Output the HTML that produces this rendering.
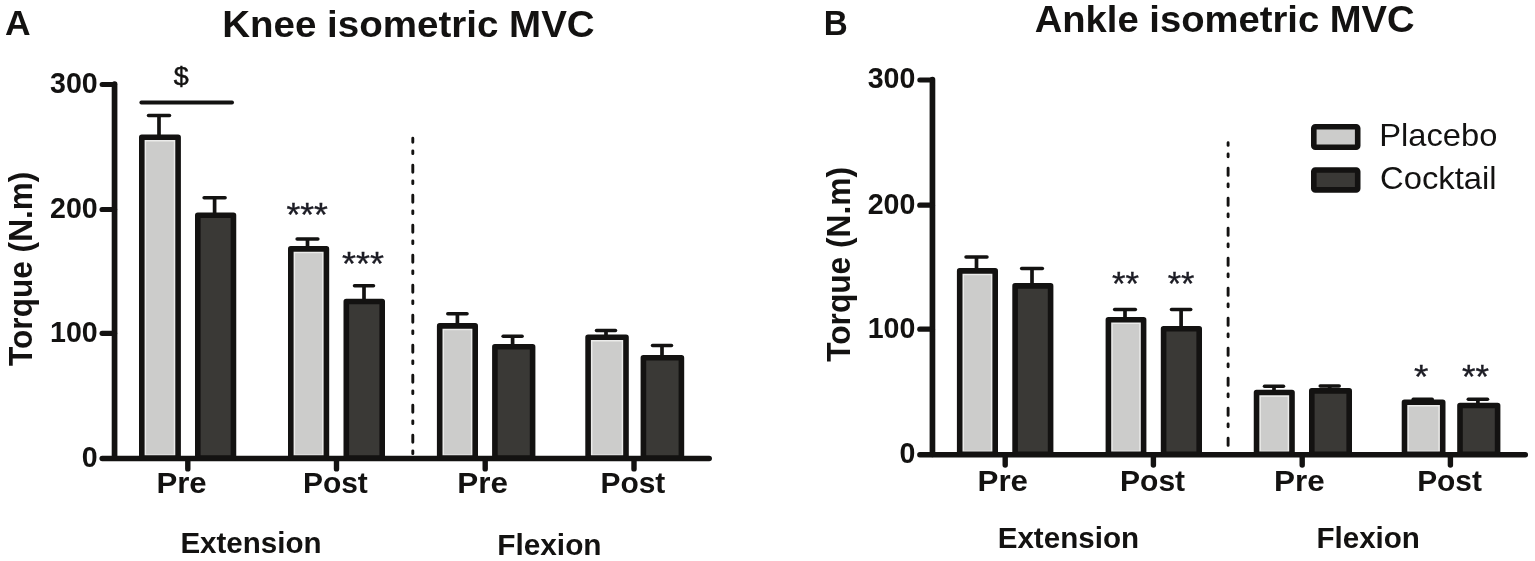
<!DOCTYPE html>
<html lang="en">
<head>
<meta charset="utf-8">
<title>Knee and ankle isometric MVC</title>
<style>
html,body{margin:0;padding:0;background:#fff;}
body{width:1535px;height:561px;overflow:hidden;}
svg{display:block;filter:blur(0.7px);}
svg text{font-family:"Liberation Sans",sans-serif;fill:#131211;}
</style>
</head>
<body>
<svg role="img" aria-label="Knee and ankle isometric MVC torque, placebo versus cocktail" width="1535" height="561" viewBox="0 0 1535 561">
<rect width="1535" height="561" fill="#fff"/>
<path d="M114.55 84.20 V458.10" stroke="#131211" stroke-width="5.7" fill="none" stroke-linecap="round"/>
<path d="M102.10 84.4H114.55" stroke="#131211" stroke-width="5.0" fill="none" stroke-linecap="round"/>
<path d="M102.20 458.5H709.20" stroke="#131211" stroke-width="5.5" fill="none" stroke-linecap="round"/>
<path d="M102.10 209.5H114.55" stroke="#131211" stroke-width="5.2" stroke-linecap="round"/>
<path d="M102.10 333.3H114.55" stroke="#131211" stroke-width="5.2" stroke-linecap="round"/>
<path d="M187.8 460.00V468.90" stroke="#131211" stroke-width="5.4" stroke-linecap="round"/>
<path d="M336.5 460.00V468.90" stroke="#131211" stroke-width="5.4" stroke-linecap="round"/>
<path d="M485.2 460.00V468.90" stroke="#131211" stroke-width="5.4" stroke-linecap="round"/>
<path d="M634.0 460.00V468.90" stroke="#131211" stroke-width="5.4" stroke-linecap="round"/>
<path d="M148.50 115.60H169.50" stroke="#131211" stroke-width="3.5" stroke-linecap="round" fill="none"/>
<path d="M159.00 115.60V136.40" stroke="#131211" stroke-width="3.7" fill="none"/>
<rect x="144.60" y="140.00" width="30.70" height="316.00" fill="#cccccb" stroke="#ebebea" stroke-width="3.0"/>
<rect x="141.80" y="137.20" width="36.30" height="320.90" fill="none" stroke="#131211" stroke-width="5.6" stroke-linejoin="round"/>
<path d="M204.10 197.80H225.10" stroke="#131211" stroke-width="3.5" stroke-linecap="round" fill="none"/>
<path d="M214.60 197.80V214.50" stroke="#131211" stroke-width="3.7" fill="none"/>
<rect x="197.80" y="215.30" width="35.65" height="242.80" fill="#3a3936" stroke="#131211" stroke-width="5.6" stroke-linejoin="round"/>
<path d="M297.12 239.00H317.88" stroke="#131211" stroke-width="3.5" stroke-linecap="round" fill="none"/>
<path d="M307.50 239.00V248.10" stroke="#131211" stroke-width="3.7" fill="none"/>
<rect x="293.60" y="251.70" width="30.00" height="204.30" fill="#cccccb" stroke="#ebebea" stroke-width="3.0"/>
<rect x="290.80" y="248.90" width="35.60" height="209.20" fill="none" stroke="#131211" stroke-width="5.6" stroke-linejoin="round"/>
<path d="M354.50 285.75H373.50" stroke="#131211" stroke-width="3.5" stroke-linecap="round" fill="none"/>
<path d="M364.00 285.75V300.75" stroke="#131211" stroke-width="3.7" fill="none"/>
<rect x="346.30" y="301.55" width="35.90" height="156.55" fill="#3a3936" stroke="#131211" stroke-width="5.6" stroke-linejoin="round"/>
<path d="M447.77 313.75H467.02" stroke="#131211" stroke-width="3.5" stroke-linecap="round" fill="none"/>
<path d="M457.40 313.75V325.10" stroke="#131211" stroke-width="3.7" fill="none"/>
<rect x="442.50" y="328.70" width="29.90" height="127.30" fill="#cccccb" stroke="#ebebea" stroke-width="3.0"/>
<rect x="439.70" y="325.90" width="35.50" height="132.20" fill="none" stroke="#131211" stroke-width="5.6" stroke-linejoin="round"/>
<path d="M503.10 336.25H522.10" stroke="#131211" stroke-width="3.5" stroke-linecap="round" fill="none"/>
<path d="M512.60 336.25V346.00" stroke="#131211" stroke-width="3.7" fill="none"/>
<rect x="494.90" y="346.80" width="37.70" height="111.30" fill="#3a3936" stroke="#131211" stroke-width="5.6" stroke-linejoin="round"/>
<path d="M596.50 330.40H615.50" stroke="#131211" stroke-width="3.5" stroke-linecap="round" fill="none"/>
<path d="M606.00 330.40V336.40" stroke="#131211" stroke-width="3.7" fill="none"/>
<rect x="590.90" y="340.00" width="32.30" height="116.00" fill="#cccccb" stroke="#ebebea" stroke-width="3.0"/>
<rect x="588.10" y="337.20" width="37.90" height="120.90" fill="none" stroke="#131211" stroke-width="5.6" stroke-linejoin="round"/>
<path d="M652.50 345.60H671.50" stroke="#131211" stroke-width="3.5" stroke-linecap="round" fill="none"/>
<path d="M662.00 345.60V357.00" stroke="#131211" stroke-width="3.7" fill="none"/>
<rect x="643.40" y="357.80" width="38.00" height="100.30" fill="#3a3936" stroke="#131211" stroke-width="5.6" stroke-linejoin="round"/>
<text transform="translate(49.99 92.85) scale(0.9400 1)" font-size="30.4" font-weight="bold">300</text>
<text transform="translate(49.99 217.95) scale(0.9400 1)" font-size="30.4" font-weight="bold">200</text>
<text transform="translate(49.99 341.75) scale(0.9400 1)" font-size="30.4" font-weight="bold">100</text>
<text transform="translate(81.78 466.95) scale(0.9400 1)" font-size="30.4" font-weight="bold">0</text>
<path d="M141.3 102.5H232.1" stroke="#131211" stroke-width="3.8" stroke-linecap="round"/>
<g stroke="#131211" stroke-width="0.5">
<text transform="translate(173.73 85.00) scale(1.0341 1)" font-size="26.0" font-weight="normal">$</text>
</g>
<text transform="translate(286.45 225.96) scale(1.0770 1)" font-size="33.00" stroke="#1c1c24" stroke-width="0.35" fill="#1c1c24" style="fill:#1c1c24">***</text>
<text transform="translate(342.05 274.95) scale(1.0647 1)" font-size="33.71" stroke="#1c1c24" stroke-width="0.35" fill="#1c1c24" style="fill:#1c1c24">***</text>
<path d="M412.8 138.30V142.25M412.8 150.85V153.65M412.8 165.15V172.25M412.8 180.85V183.65M412.8 195.15V202.25M412.8 210.85V213.65M412.8 225.15V232.25M412.8 240.85V243.65M412.8 255.15V262.25M412.8 270.85V273.65M412.8 285.15V292.25M412.8 300.85V303.65M412.8 315.15V322.25M412.8 330.85V333.65M412.8 345.15V352.25M412.8 360.85V363.65M412.8 375.15V382.25M412.8 390.85V393.65M412.8 405.15V412.25M412.8 420.85V423.65M412.8 435.15V442.25M412.8 450.85V453.65" stroke="#131211" stroke-width="2.9" stroke-linecap="round" fill="none"/>
<text transform="translate(5.01 35.20) scale(1.0092 1)" font-size="35.2" font-weight="bold">A</text>
<text transform="translate(222.15 37.10) scale(1.0388 1)" font-size="37.1" font-weight="bold">Knee isometric MVC</text>
<text transform="translate(156.39 493.10) scale(1.0610 1)" font-size="29.4" font-weight="bold">Pre</text>
<text transform="translate(302.98 493.10) scale(1.0184 1)" font-size="29.4" font-weight="bold">Post</text>
<text transform="translate(457.28 493.10) scale(1.0700 1)" font-size="29.4" font-weight="bold">Pre</text>
<text transform="translate(600.48 493.10) scale(1.0184 1)" font-size="29.4" font-weight="bold">Post</text>
<text transform="translate(180.41 553.10) scale(0.9983 1)" font-size="29.6" font-weight="bold">Extension</text>
<text transform="translate(497.19 555.00) scale(1.0044 1)" font-size="29.7" font-weight="bold">Flexion</text>
<text transform="translate(31.90 365.92) rotate(-90) scale(0.9411 1)" font-size="33.6" font-weight="bold">Torque (N.m)</text>
<path d="M932.45 79.70 V454.30" stroke="#131211" stroke-width="5.7" fill="none" stroke-linecap="round"/>
<path d="M919.80 79.9H932.45" stroke="#131211" stroke-width="5.0" fill="none" stroke-linecap="round"/>
<path d="M919.90 454.7H1525.30" stroke="#131211" stroke-width="5.5" fill="none" stroke-linecap="round"/>
<path d="M919.80 205.2H932.45" stroke="#131211" stroke-width="5.2" stroke-linecap="round"/>
<path d="M919.80 329.2H932.45" stroke="#131211" stroke-width="5.2" stroke-linecap="round"/>
<path d="M1005.2 456.20V465.10" stroke="#131211" stroke-width="5.4" stroke-linecap="round"/>
<path d="M1153.4 456.20V465.10" stroke="#131211" stroke-width="5.4" stroke-linecap="round"/>
<path d="M1302.2 456.20V465.10" stroke="#131211" stroke-width="5.4" stroke-linecap="round"/>
<path d="M1450.4 456.20V465.10" stroke="#131211" stroke-width="5.4" stroke-linecap="round"/>
<path d="M966.00 257.00H987.00" stroke="#131211" stroke-width="3.5" stroke-linecap="round" fill="none"/>
<path d="M976.50 257.00V270.10" stroke="#131211" stroke-width="3.7" fill="none"/>
<rect x="962.50" y="273.70" width="29.90" height="178.50" fill="#cccccb" stroke="#ebebea" stroke-width="3.0"/>
<rect x="959.70" y="270.90" width="35.50" height="183.40" fill="none" stroke="#131211" stroke-width="5.6" stroke-linejoin="round"/>
<path d="M1021.62 268.40H1042.38" stroke="#131211" stroke-width="3.5" stroke-linecap="round" fill="none"/>
<path d="M1032.00 268.40V285.10" stroke="#131211" stroke-width="3.7" fill="none"/>
<rect x="1015.10" y="285.90" width="35.50" height="168.40" fill="#3a3936" stroke="#131211" stroke-width="5.6" stroke-linejoin="round"/>
<path d="M1114.62 309.50H1135.38" stroke="#131211" stroke-width="3.5" stroke-linecap="round" fill="none"/>
<path d="M1125.00 309.50V318.90" stroke="#131211" stroke-width="3.7" fill="none"/>
<rect x="1111.20" y="322.50" width="29.60" height="129.70" fill="#cccccb" stroke="#ebebea" stroke-width="3.0"/>
<rect x="1108.40" y="319.70" width="35.20" height="134.60" fill="none" stroke="#131211" stroke-width="5.6" stroke-linejoin="round"/>
<path d="M1171.47 309.50H1190.72" stroke="#131211" stroke-width="3.5" stroke-linecap="round" fill="none"/>
<path d="M1181.10 309.50V328.00" stroke="#131211" stroke-width="3.7" fill="none"/>
<rect x="1163.60" y="328.80" width="35.60" height="125.50" fill="#3a3936" stroke="#131211" stroke-width="5.6" stroke-linejoin="round"/>
<path d="M1264.50 386.25H1283.50" stroke="#131211" stroke-width="3.5" stroke-linecap="round" fill="none"/>
<path d="M1274.00 386.25V391.75" stroke="#131211" stroke-width="3.7" fill="none"/>
<rect x="1259.35" y="395.35" width="29.85" height="56.85" fill="#cccccb" stroke="#ebebea" stroke-width="3.0"/>
<rect x="1256.55" y="392.55" width="35.45" height="61.75" fill="none" stroke="#131211" stroke-width="5.6" stroke-linejoin="round"/>
<path d="M1320.20 386.00H1339.20" stroke="#131211" stroke-width="3.5" stroke-linecap="round" fill="none"/>
<path d="M1329.70 386.00V390.10" stroke="#131211" stroke-width="3.7" fill="none"/>
<rect x="1311.80" y="390.90" width="37.40" height="63.40" fill="#3a3936" stroke="#131211" stroke-width="5.6" stroke-linejoin="round"/>
<path d="M1413.20 399.20H1432.20" stroke="#131211" stroke-width="3.5" stroke-linecap="round" fill="none"/>
<path d="M1422.70 399.20V401.40" stroke="#131211" stroke-width="3.7" fill="none"/>
<rect x="1407.30" y="405.00" width="32.60" height="47.20" fill="#cccccb" stroke="#ebebea" stroke-width="3.0"/>
<rect x="1404.50" y="402.20" width="38.20" height="52.10" fill="none" stroke="#131211" stroke-width="5.6" stroke-linejoin="round"/>
<path d="M1468.28 399.25H1487.53" stroke="#131211" stroke-width="3.5" stroke-linecap="round" fill="none"/>
<path d="M1477.90 399.25V404.75" stroke="#131211" stroke-width="3.7" fill="none"/>
<rect x="1460.00" y="405.55" width="37.60" height="48.75" fill="#3a3936" stroke="#131211" stroke-width="5.6" stroke-linejoin="round"/>
<text transform="translate(867.69 88.35) scale(0.9400 1)" font-size="30.4" font-weight="bold">300</text>
<text transform="translate(867.69 213.65) scale(0.9400 1)" font-size="30.4" font-weight="bold">200</text>
<text transform="translate(867.69 337.65) scale(0.9400 1)" font-size="30.4" font-weight="bold">100</text>
<text transform="translate(899.48 463.15) scale(0.9400 1)" font-size="30.4" font-weight="bold">0</text>
<path d="M1228.1 142.80V145.40M1228.1 154.00V156.80M1228.1 168.30V175.40M1228.1 184.00V186.80M1228.1 198.30V205.40M1228.1 214.00V216.80M1228.1 228.30V235.40M1228.1 244.00V246.80M1228.1 258.30V265.40M1228.1 274.00V276.80M1228.1 288.30V295.40M1228.1 304.00V306.80M1228.1 318.30V325.40M1228.1 334.00V336.80M1228.1 348.30V355.40M1228.1 364.00V366.80M1228.1 378.30V385.40M1228.1 394.00V396.80M1228.1 408.30V415.40M1228.1 424.00V426.80M1228.1 438.30V445.40" stroke="#131211" stroke-width="2.9" stroke-linecap="round" fill="none"/>
<text transform="translate(1112.07 294.95) scale(1.0312 1)" font-size="33.71" stroke="#1c1c24" stroke-width="0.35" fill="#1c1c24" style="fill:#1c1c24">**</text>
<text transform="translate(1167.67 294.95) scale(1.0212 1)" font-size="33.71" stroke="#1c1c24" stroke-width="0.35" fill="#1c1c24" style="fill:#1c1c24">**</text>
<text transform="translate(1414.03 388.31) scale(1.1129 1)" font-size="33.29" stroke="#1c1c24" stroke-width="0.35" fill="#1c1c24" style="fill:#1c1c24">*</text>
<text transform="translate(1461.97 388.31) scale(1.0424 1)" font-size="33.29" stroke="#1c1c24" stroke-width="0.35" fill="#1c1c24" style="fill:#1c1c24">**</text>
<rect x="1313.80" y="126.80" width="43.90" height="20.40" rx="1.5" fill="#cccccb" stroke="#131211" stroke-width="5.6" stroke-linejoin="round"/>
<rect x="1313.80" y="170.00" width="43.90" height="19.90" rx="1.5" fill="#3a3936" stroke="#131211" stroke-width="5.6" stroke-linejoin="round"/>
<text transform="translate(1379.20 146.30) scale(1.0454 1)" font-size="31.3" font-weight="normal">Placebo</text>
<text transform="translate(1380.11 189.00) scale(1.0472 1)" font-size="31.3" font-weight="normal">Cocktail</text>
<text transform="translate(823.76 35.00) scale(0.9512 1)" font-size="34.9" font-weight="bold">B</text>
<text transform="translate(1034.64 32.25) scale(1.0191 1)" font-size="37.5" font-weight="bold">Ankle isometric MVC</text>
<text transform="translate(977.49 491.25) scale(1.0877 1)" font-size="28.8" font-weight="bold">Pre</text>
<text transform="translate(1120.07 491.25) scale(1.0429 1)" font-size="28.8" font-weight="bold">Post</text>
<text transform="translate(1274.08 491.25) scale(1.0923 1)" font-size="28.8" font-weight="bold">Pre</text>
<text transform="translate(1417.18 491.25) scale(1.0379 1)" font-size="28.8" font-weight="bold">Post</text>
<text transform="translate(997.70 548.20) scale(0.9997 1)" font-size="29.6" font-weight="bold">Extension</text>
<text transform="translate(1316.40 547.90) scale(0.9964 1)" font-size="29.7" font-weight="bold">Flexion</text>
<text transform="translate(850.00 361.82) rotate(-90) scale(0.9436 1)" font-size="33.6" font-weight="bold">Torque (N.m)</text>
</svg>
</body>
</html>
